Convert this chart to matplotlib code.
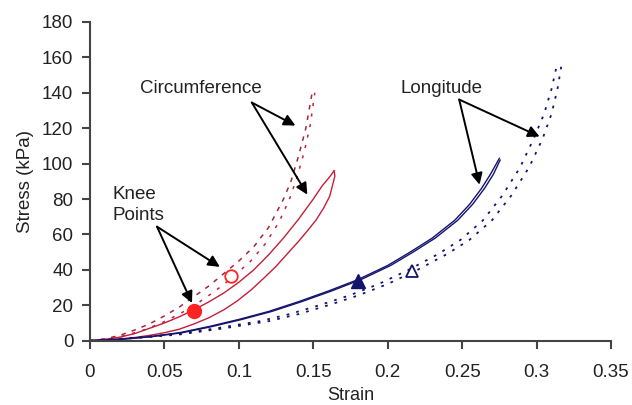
import matplotlib
matplotlib.use("Agg")
import matplotlib.pyplot as plt

plt.rcParams['font.family'] = ['Liberation Sans', 'DejaVu Sans']

# ---- data (strain, stress kPa) ----
circ_dash_a_x = [0, 0.01, 0.02, 0.03, 0.04, 0.05, 0.06, 0.07, 0.08, 0.09, 0.10, 0.11, 0.12, 0.13, 0.135, 0.14, 0.145, 0.149]
circ_dash_a_y = [0, 1, 3, 6, 9.5, 14, 19, 25, 31, 38, 45, 53, 64, 80, 90, 104, 120, 139]
circ_dash_b_x = [0, 0.012, 0.024, 0.036, 0.048, 0.06, 0.072, 0.084, 0.096, 0.108, 0.118, 0.127, 0.134, 0.139, 0.144, 0.148, 0.151]
circ_dash_b_y = [0, 1, 3, 6, 10, 15, 21, 28, 36, 45, 55, 67, 80, 92, 107, 122, 140]

circ_solid_up_x = [0, 0.01, 0.02, 0.03, 0.04, 0.05, 0.06, 0.07, 0.08, 0.09, 0.10, 0.11, 0.12, 0.13, 0.14, 0.15, 0.156, 0.161, 0.164]
circ_solid_up_y = [0, 0.8, 2, 4, 7, 10, 13.5, 17.5, 22, 27, 33, 40, 48.5, 58, 68.5, 80, 87.5, 92.5, 96]
circ_solid_dn_x = [0.164, 0.1645, 0.163, 0.161, 0.157, 0.152, 0.146, 0.14, 0.133, 0.125, 0.117, 0.108, 0.099, 0.09, 0.08, 0.07, 0.06, 0.05, 0.04, 0.03, 0.02, 0.01, 0]
circ_solid_dn_y = [96, 93, 88, 81.5, 75, 68.3, 62, 56, 49.5, 42, 35.5, 28.5, 22.5, 17.5, 13, 9.5, 6.5, 4.5, 3, 1.8, 1, 0.4, 0]

long_solid_a_x = [0, 0.02, 0.04, 0.06, 0.08, 0.10, 0.12, 0.14, 0.16, 0.18, 0.20, 0.215, 0.23, 0.245, 0.255, 0.263, 0.269, 0.275]
long_solid_a_y = [0, 0.8, 2.3, 4.5, 8, 12, 16.5, 22, 28, 34.5, 42.5, 50, 58, 68, 77, 86, 94, 103]
long_solid_b_x = [0, 0.022, 0.042, 0.062, 0.082, 0.102, 0.122, 0.142, 0.162, 0.182, 0.202, 0.217, 0.232, 0.247, 0.257, 0.265, 0.271, 0.2755]
long_solid_b_y = [0, 0.8, 2.3, 4.5, 8, 12, 16.5, 22, 28, 34.5, 42.5, 50, 58, 68, 77, 86, 94, 102]

long_dot_a_x = [0, 0.03, 0.06, 0.09, 0.12, 0.14, 0.16, 0.18, 0.2, 0.22, 0.24, 0.255, 0.27, 0.283, 0.295, 0.304, 0.31, 0.314, 0.317]
long_dot_a_y = [0, 1.5, 3.5, 7, 11, 15, 20, 25.5, 32, 40, 49, 57, 68, 82, 98, 114, 128, 142, 157]
long_dot_b_x = [0, 0.028, 0.056, 0.085, 0.114, 0.134, 0.154, 0.174, 0.194, 0.214, 0.234, 0.249, 0.264, 0.277, 0.289, 0.298, 0.305, 0.31, 0.314]
long_dot_b_y = [0, 1.5, 3.5, 7, 11, 15, 20, 25.5, 32, 40, 49, 57, 68, 82, 98, 114, 128, 142, 157]

knee_circ_filled = (0.0700, 17.0)
knee_circ_open = (0.0946, 36.5)
knee_long_filled = (0.1801, 33.5)
knee_long_open = (0.2160, 39.5)

xticks = [0, 0.05, 0.1, 0.15, 0.2, 0.25, 0.3, 0.35]
xtick_labels = ['0', '0.05', '0.1', '0.15', '0.2', '0.25', '0.3', '0.35']
yticks = [0, 20, 40, 60, 80, 100, 120, 140, 160, 180]

RED = '#c41e3a'
DRED = '#a0283c'
NAVY = '#14146e'
TXT = '#222222'
FS = 13.5

fig = plt.figure(figsize=(6.32, 4.05), dpi=100)
ax = fig.add_axes([0.1424, 0.1588, 0.8244, 0.7869])

ax.plot(circ_dash_a_x, circ_dash_a_y, color=DRED, lw=1.1, dashes=(3, 4))
ax.plot(circ_dash_b_x, circ_dash_b_y, color=RED, lw=1.1, dashes=(2, 5))
ax.plot(circ_solid_up_x, circ_solid_up_y, color=RED, lw=1.0)
ax.plot(circ_solid_dn_x, circ_solid_dn_y, color=RED, lw=1.0)

ax.plot(long_solid_a_x, long_solid_a_y, color=NAVY, lw=1.0)
ax.plot(long_solid_b_x, long_solid_b_y, color=NAVY, lw=1.0)
ax.plot(long_dot_a_x, long_dot_a_y, color=NAVY, lw=1.3, dashes=(1.5, 4))
ax.plot(long_dot_b_x, long_dot_b_y, color=NAVY, lw=1.3, dashes=(1.5, 4))

ax.plot(*knee_circ_filled, 'o', ms=10, color='#ff2424', mec='#ff2424')
ax.plot(*knee_circ_open, 'o', ms=9, mfc='white', mec='#ff2424', mew=1.3)
ax.plot(*knee_long_filled, '^', ms=10, color=NAVY)
ax.plot(*knee_long_open, '^', ms=9, mfc='white', mec=NAVY, mew=1.3)

ax.set_xlim(0, 0.35)
ax.set_ylim(0, 180)
ax.set_xticks(xticks)
ax.set_xticklabels(xtick_labels)
ax.set_yticks(yticks)
for s in ['top', 'right']:
    ax.spines[s].set_visible(False)
for s in ['left', 'bottom']:
    ax.spines[s].set_linewidth(1.5)
    ax.spines[s].set_color('#444444')
ax.tick_params(axis='both', direction='out', length=6, width=1.5, color='#444444',
               labelsize=FS, labelcolor=TXT)
ax.tick_params(axis='x', pad=11)
ax.tick_params(axis='y', pad=6)

ax.set_xlabel('Strain', fontsize=13, color=TXT)
ax.xaxis.set_label_coords(0.5, -0.145)
ax.set_ylabel('Stress (kPa)', fontsize=FS, color=TXT, labelpad=6)

arrow = dict(arrowstyle='-|>', mutation_scale=17, lw=1.4, color='black',
             shrinkA=0, shrinkB=0)

ax.text(0.0745, 142.4, 'Circumference', fontsize=FS, color=TXT, ha='center', va='center')
for end in [(0.138, 121.5), (0.146, 82.5)]:
    ax.annotate('', xy=end, xytext=(0.1087, 134.5), arrowprops=arrow)

ax.text(0.236, 142.4, 'Longitude', fontsize=FS, color=TXT, ha='center', va='center')
for end in [(0.302, 115.3), (0.2617, 88.1)]:
    ax.annotate('', xy=end, xytext=(0.248, 136.2), arrowprops=arrow)

ax.text(0.0148, 76.7, 'Knee\nPoints', fontsize=FS, color=TXT, ha='left', va='center',
        linespacing=1.3)
for end in [(0.0872, 41.7), (0.0685, 21.3)]:
    ax.annotate('', xy=end, xytext=(0.045, 64.4), arrowprops=arrow)

fig.savefig('out.png', dpi=100)
